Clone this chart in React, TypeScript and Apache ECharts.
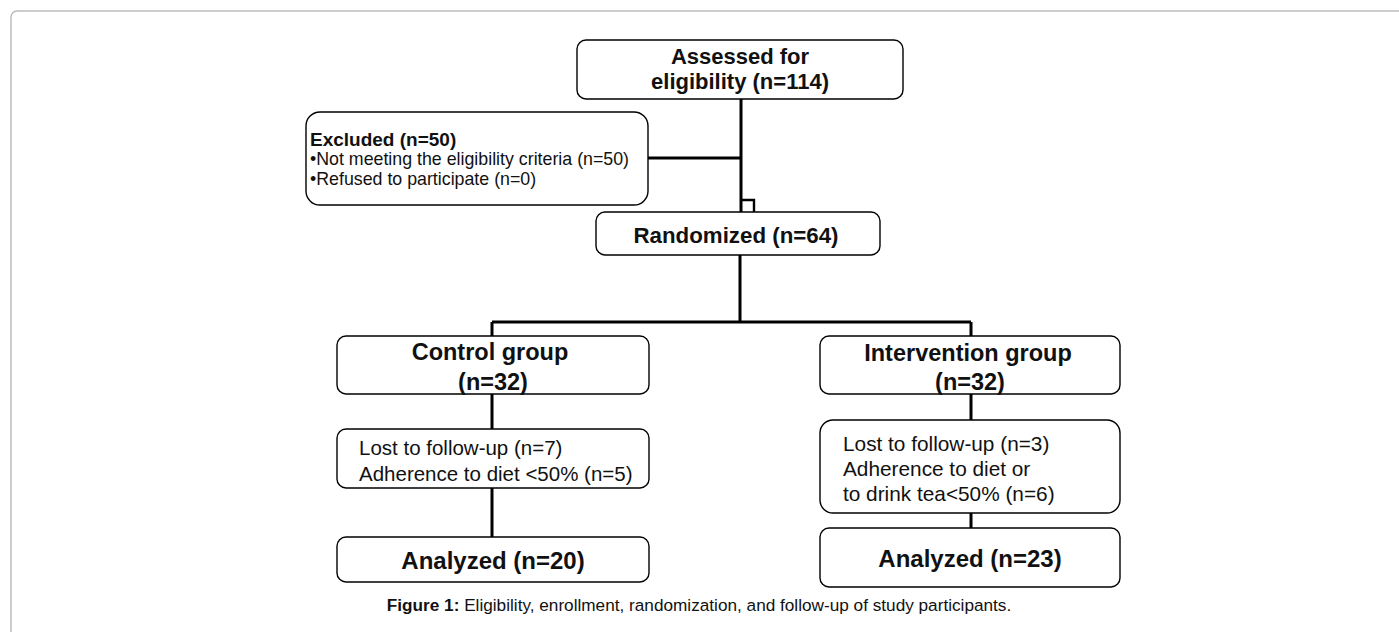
import React, { useEffect, useRef } from "react";
import * as echarts from "echarts";

// ---- data ----
const assessedN = 114;
const excludedN = 50;
const notMeetingN = 50;
const refusedN = 0;
const randomizedN = 64;
const groupNames = ["Control group", "Intervention group"];
const groupN = [32, 32];
const lostN = [7, 3];
const adherenceN = [5, 6];
const analyzedN = [20, 23];
const captionBold = "Figure 1:";
const captionText = " Eligibility, enrollment, randomization, and follow-up of study participants.";

const FONT = "'Liberation Sans', Arial, Helvetica, sans-serif";

function box(x: number, y: number, w: number, h: number, r = 9) {
  return {
    type: "rect",
    shape: { x, y, width: w, height: h, r },
    style: { fill: "#fff", stroke: "#000", lineWidth: 1.4 },
    z: 2,
  };
}
function txt(
  text: string,
  x: number,
  y: number,
  size: number,
  bold: boolean,
  align: "left" | "center" = "center"
) {
  return {
    type: "text",
    x,
    y,
    z: 5,
    style: {
      text,
      fontFamily: FONT,
      fontSize: size,
      fontWeight: bold ? "bold" : "normal",
      fill: "#111",
      textAlign: align,
      textVerticalAlign: "middle",
    },
  };
}
function seg(pts: number[][], w = 3) {
  return {
    type: "polyline",
    shape: { points: pts },
    style: { stroke: "#000", lineWidth: w, fill: null },
    z: 1,
  };
}

export default function App() {
  const ref = useRef<HTMLDivElement>(null);
  useEffect(() => {
    if (!ref.current) return;
    const chart = echarts.init(ref.current, null, { renderer: "svg" });
    const cx = [493, 970];
    const elements: any[] = [
      // outer frame
      {
        type: "rect",
        shape: { x: 11, y: 11, width: 1440, height: 700, r: 6 },
        style: { fill: "none", stroke: "#bdbdbd", lineWidth: 1.5 },
        z: 0,
      },
      // connectors
      seg([[741, 99], [741, 212]]),
      seg([[648, 158], [741, 158]]),
      seg([[741, 200], [754, 200], [754, 212]], 2.4),
      seg([[740, 255], [740, 322]]),
      seg([[492, 322], [971, 322]]),
      seg([[492, 322], [492, 336]]),
      seg([[971, 322], [971, 336]]),
      seg([[492, 394], [492, 429]]),
      seg([[492, 488], [492, 537]]),
      seg([[971, 394], [971, 420]]),
      seg([[971, 513], [971, 528]]),
      // boxes
      box(577, 40, 326, 59),
      box(306, 112, 342, 93, 14),
      box(596, 212, 284, 43),
      box(337, 336, 312, 58),
      box(820, 336, 300, 58),
      box(337, 429, 312, 59),
      box(820, 420, 300, 93, 13),
      box(337, 537, 312, 45),
      box(820, 528, 300, 59),
      // texts
      txt("Assessed for", 740, 56, 22, true),
      txt(`eligibility (n=${assessedN})`, 740, 81, 22, true),
      txt(`Excluded (n=${excludedN})`, 310, 139, 19, true, "left"),
      txt(`\u2022Not meeting the eligibility criteria (n=${notMeetingN})`, 310, 159, 17.8, false, "left"),
      txt(`\u2022Refused to participate (n=${refusedN})`, 310, 179, 17.8, false, "left"),
      txt(`Randomized (n=${randomizedN})`, 736, 235, 22.3, true),
      txt(groupNames[0], cx[0] - 3, 352, 23.5, true),
      txt(`(n=${groupN[0]})`, cx[0], 382, 23.5, true),
      txt(groupNames[1], cx[1] - 2, 353, 23.5, true),
      txt(`(n=${groupN[1]})`, cx[1], 382, 23.5, true),
      txt(`Lost to follow-up (n=${lostN[0]})`, 359, 447, 20.5, false, "left"),
      txt(`Adherence to diet <50% (n=${adherenceN[0]})`, 359, 473, 20.5, false, "left"),
      txt(`Lost to follow-up (n=${lostN[1]})`, 843, 443, 20.8, false, "left"),
      txt("Adherence to diet or", 843, 468, 20.8, false, "left"),
      txt(`to drink tea<50% (n=${adherenceN[1]})`, 843, 493, 20.8, false, "left"),
      txt(`Analyzed (n=${analyzedN[0]})`, cx[0], 560, 24, true),
      txt(`Analyzed (n=${analyzedN[1]})`, cx[1], 558, 24, true),
      {
        type: "text",
        x: 699,
        y: 605,
        z: 5,
        style: {
          text: `{b|${captionBold}}{r|${captionText}}`,
          fontFamily: FONT,
          fontSize: 17.2,
          fill: "#111",
          textAlign: "center",
          textVerticalAlign: "middle",
          rich: {
            b: { fontFamily: FONT, fontSize: 17.2, fontWeight: "bold", fill: "#111" },
            r: { fontFamily: FONT, fontSize: 17.2, fontWeight: "normal", fill: "#111" },
          },
        },
      },
    ];
    chart.setOption({
      animation: false,
      backgroundColor: "#fff",
      graphic: { elements },
    });
    return () => chart.dispose();
  }, []);
  return (
    <div
      ref={ref}
      style={{ position: "fixed", left: 0, top: 0, width: 1399, height: 632, background: "#fff" }}
    />
  );
}
